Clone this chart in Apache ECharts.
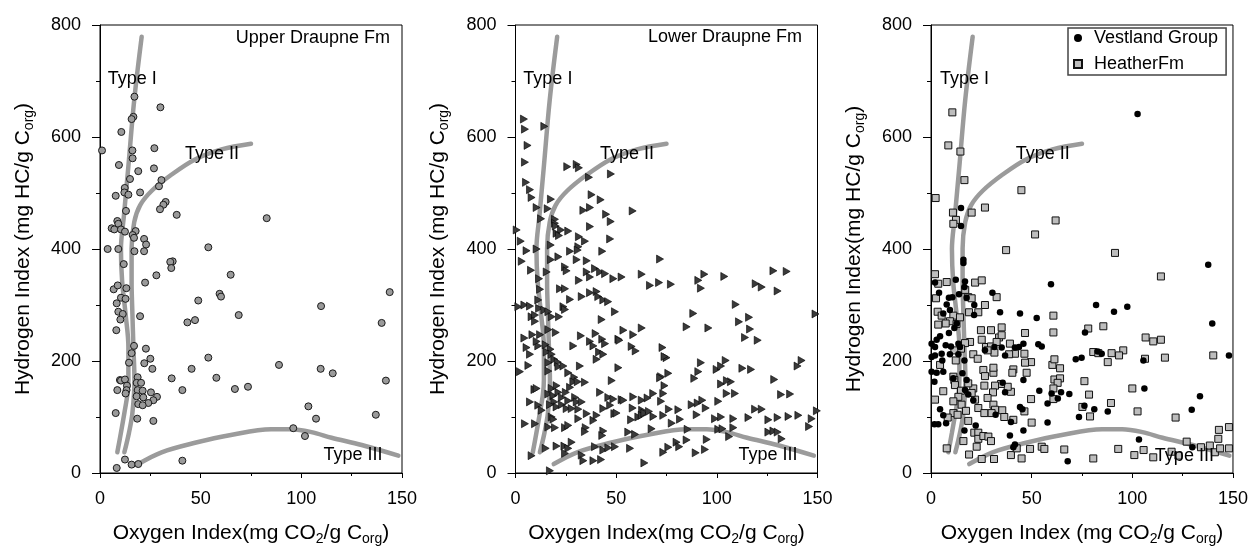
<!DOCTYPE html>
<html>
<head>
<meta charset="utf-8">
<script src="https://cdn.jsdelivr.net/npm/echarts@6/dist/echarts.min.js"></script>
<style>
  html, body { margin: 0; padding: 0; background: #fff; }
  #chart { width: 1251px; height: 551px; }
</style>
</head>
<body>
<div id="chart"></div>
<script>
// Kerogen type boundaries (Oxygen Index, Hydrogen Index), shared by all panels
const typeICurve = [[8.6,37],[10.4,72],[12.1,107],[13.6,140],[14.1,166],[14.1,225],[12.7,284],[11,342],[10.4,400],[11.9,460],[14.1,548],[17,666],[20.7,779]];
const typeIICurve = [[12.1,37],[14.4,72],[16.1,107],[17.1,166],[16.6,225],[16.1,284],[15.7,340],[15.7,401],[17,448],[19.9,478],[25.7,504],[35.6,533],[47.2,560],[60.4,578],[75,588]];
const typeIIICurve = [[19,16],[30.6,37],[47.2,54],[65,68],[85,78],[95,78],[105,73],[115,63],[130,50],[148.2,31]];

// Upper Draupne Fm samples [OI, HI]
const upperDraupne = [
[1,576],[17.1,672],[30,653],[16.6,636],[15.7,632],[10.6,609],[27,580],[16.1,576],[16.2,562],[9.4,550],[26.8,544],[19,539],[30.5,523],[14.9,525],[29.3,512],[12.3,509],[12.1,501],[19.9,501],[14.1,497],[7.8,495],[32.6,484],[31.5,479],[29.8,471],[38.1,461],[82.8,455],[12.9,468],[8.6,450],[9.1,445],[5.8,437],[7.1,435],[10.4,435],[12.4,431],[17.7,432],[16.2,425],[16.9,420],[21.9,418],[22.9,408],[3.8,400],[9.1,400],[17.1,396],[21.9,396],[53.8,403],[11.8,373],[36.1,378],[34.9,377],[35.4,366],[28,353],[64.9,354],[22.4,340],[6.8,328],[8.8,335],[13.1,330],[10.4,313],[12.7,311],[8.3,303],[48.8,308],[59.4,320],[60.1,315],[109.8,298],[143.9,323],[9.1,288],[11.3,284],[10.1,274],[19.9,280],[43.4,269],[47.2,273],[68.9,282],[8.1,255],[139.9,268],[16.9,227],[22.8,222],[15.7,214],[53.8,206],[25,204],[14.4,197],[22,196],[26,186],[45.5,186],[88.9,193],[109.6,186],[115.6,178],[9.9,166],[10.4,165],[12.4,167],[18.7,171],[35.6,169],[57.8,170],[142,165],[18.2,161],[20.4,161],[13.4,156],[13.2,148],[8.6,148],[18.7,148],[21.2,147],[25.3,144],[40.9,148],[67,150],[73.5,154],[12.7,142],[18.2,137],[21.5,135],[28.3,136],[26.5,130],[24,125],[19,123],[21.2,121],[103.5,119],[7.8,107],[137,104],[18.5,97],[26.5,93],[107.3,97],[96,80],[101.8,66],[12.4,24],[15.7,15],[19,16],[40.9,22],[8.3,9]
];

// Lower Draupne Fm samples [OI, HI]
const lowerDraupne = [
[4.2,632],[4.7,614],[14.3,619],[6,585],[4.7,555],[5.2,519],[7.2,506],[8,492],[10.5,474],[16,472],[12.7,454],[19.6,453],[19.6,446],[17.6,489],[25.7,547],[30.4,551],[31.5,545],[36.5,528],[47.4,534],[37.8,497],[42.3,488],[33.7,469],[37,474],[45,462],[47.3,449],[58.2,468],[20,441],[22.6,434],[26.2,432],[20.4,428],[21.6,424],[37,440],[31.5,422],[34.5,414],[47,418],[0.6,434],[2.6,414],[17.5,407],[31.2,404],
[5.5,397],[10.5,400],[17.6,381],[21.3,386],[27.1,396],[30.9,398],[30.4,381],[35.4,379],[43.1,396],[3.1,378],[7.7,362],[15.5,359],[11.7,347],[24.6,368],[25.4,361],[31.5,344],[35.4,359],[37,350],[39.5,365],[42,359],[44.5,356],[48.6,347],[52.7,350],[12.2,328],[22.1,329],[24.6,329],[27.1,310],[32.9,315],[37,322],[40.3,324],[41.1,315],[43.6,309],[46,306],[1.4,297],[4.4,300],[7.2,298],[11.3,309],[11.7,294],[8,279],[9.7,282],[14.3,291],[16.3,288],[18,279],[21.6,279],[23.8,297],[24.6,292],[9.7,271],[49.4,288],[42.8,274],[4.4,241],[8.4,247],[12.2,247],[16.3,256],[20,251],[11.3,227],[10.5,235],[15,229],[17.4,221],[5.5,224],[7.2,212],[32.5,245],[37,235],[39.8,249],[38.7,227],[43.1,239],[44.5,231],[28.7,227],[51.1,239],[41.5,216],[43.6,212],[40.3,203],[2.2,181],[6.4,192],[15.5,216],[18,212],[19.3,203],[16.3,197],[21,198],[21.3,190],[23.8,191],[16.3,182],[26.2,179],[29.2,171],[32,191],[28.7,163],[30.9,163],[34.5,162],[27.1,153],[47.8,165],[51.1,188],[9.4,149],[10.5,151],[18,151],[20.4,156],[16.3,141],[18.8,138],[21.3,144],[23,135],[25,144],[26.2,129],[29.6,135],[30.4,127],[32.9,127],[19.3,127],[20.4,118],[17.1,122],[23,122],[25.4,115],[27.9,115],[31.2,114],[7.2,127],[11.3,121],[42,144],[46.1,135],[48.6,132],[52.7,131],[13,112],[18,100],[9.7,88],[4.7,88],[16.3,82],[18.8,96],[19.6,81],[24.6,81],[26.2,85],[31.2,97],[35.4,106],[38.7,94],[40.3,103],[43.6,115],[47,121],[49.1,106],[34.9,81],[34.5,74],[43.6,75],[43.1,67],[8,31],[15,44],[20.4,48],[24.3,48],[27.9,55],[26.2,44],[24.6,35],[32.9,32],[33.7,22],[38.7,22],[42.5,24],[39.5,47],[43.6,41],[46.1,45],[49.4,47],[17.1,4],
[71.8,382],[62.7,355],[66.8,335],[71.3,340],[77.2,337],[90.8,344],[93.8,355],[92.1,330],[103.7,351],[119.3,338],[122.3,332],[128.1,361],[134.7,360],[130.2,325],[109.4,301],[88.3,285],[111,270],[116,278],[116.5,257],[114,242],[120.3,237],[149,284],[53.6,255],[58.5,247],[62.7,259],[85,261],[95.8,259],[57.7,226],[59.7,218],[51.6,237],[73,224],[75,206],[74,208],[75.9,178],[74,156],[72.3,172],[71.8,170],[92.1,197],[90.8,181],[88.8,169],[99.9,185],[102.1,191],[104.4,201],[102.1,159],[107,163],[105,165],[112.7,187],[117,185],[128.5,167],[140.1,191],[142.1,201],[131.9,140],[136.4,141],[109,142],[104.9,142],[53.6,130],[58.5,136],[62.7,130],[65.6,134],[68.4,142],[72.3,128],[73.4,142],[76.2,114],[87.5,122],[90.5,125],[92.8,130],[94.5,116],[100.7,128],[119,114],[122.3,114],[80.9,113],[50.2,107],[58.2,116],[62.9,112],[57.4,95],[61,100],[62.7,103],[64,107],[66.3,110],[68.5,101],[73.4,103],[77.6,89],[81.7,96],[90,104],[99.1,97],[102.1,100],[108.2,97],[115.7,99],[125.6,95],[130.2,99],[140.5,103],[135.6,101],[147.1,97],[149.7,111],[145.8,83],[67.6,79],[85.5,78],[100.7,78],[102.8,79],[108.2,81],[125.6,73],[128.1,75],[130.2,73],[132.2,61],[106.1,65],[59.4,69],[56,73],[56.9,44],[73.4,37],[75.9,46],[80,55],[81.3,47],[85,59],[89.5,36],[94.1,42],[95,60],[64,18]
];

// Vestland Group samples [OI, HI]
const vestlandGroup = [
[102.6,641],[14.9,473],[14.9,441],
[16.1,381],[16.1,375],[137.7,372],[12.3,345],[16.9,342],[2,340],[59.6,337],
[4,322],[8.9,313],[10.6,314],[13.9,319],[30.5,322],[16.6,332],[17.7,313],[21.5,300],[7.8,301],[9.4,291],[6.1,285],[34.3,287],[44.2,285],[52.5,277],[82,300],[90.9,288],[97.5,297],[139.7,267],[21.4,282],
[2.8,238],[0.3,231],[4.5,244],[8.9,250],[11.6,259],[12.8,267],[13.6,231],[14.4,225],[9.9,226],[7.3,228],[2,225],[0.3,207],[2,210],[5.3,213],[9.4,212],[5.6,201],[13.6,212],[16.6,201],[26.8,219],[31.5,225],[35.1,224],[43.7,225],[45.9,231],[53.3,230],[55,226],[76.5,251],[74.8,206],[71.9,203],[82.8,217],[84.8,213],[105.5,201],[148,210],[36.8,210],[41.7,224],
[0.3,181],[2.8,179],[6.1,181],[1.7,163],[11.1,169],[15.6,178],[17.7,166],[16.9,148],[18.5,140],[21,130],[35.6,161],[36.8,144],[45.9,166],[53.8,147],[59.9,142],[64.6,144],[68.7,141],[63,133],[57.9,124],[81.1,114],[87.8,110],[73.5,100],[76.2,120],[106,151],[133.6,137],[129.5,113],[45.4,114],[44.2,118],[32.1,104],[39.7,91],[45.9,76],[57.9,90],[39.2,67],[22.2,85],[16.6,76],[4.5,114],[6.1,103],[1.7,87],[3.6,87],[7.5,89],[41.7,51],[40.9,46],[67.9,21],[103.3,60],[129.8,46]
];

// Heather Fm samples [OI, HI]
const heatherFm = [
[10.6,644],[8.6,585],[14.6,574],[16.6,523],[2.3,491],[44.9,505],[10.9,465],[20.2,465],[26.8,474],[12.4,452],[11.1,445],[61.9,451],[51.7,426],[37.3,398],[91.4,393],[114.2,351],
[2,355],[3.6,338],[7.8,341],[21.9,340],[25.2,344],[32.6,314],[3.3,288],[5.3,281],[11.1,281],[9.4,271],[7.3,267],[3.6,265],[12.7,266],[14.4,278],[18.5,314],[20.2,312],[18.9,287],[23.5,287],[26.8,300],[60.8,281],[60.8,251],[46.7,250],[24.8,255],[29.8,255],[35.1,260],[78.1,258],[85.6,262],[106.6,242],[110.4,235],[114.2,238],[95.5,219],[89.7,214],[87.8,198],[93.4,210],[80.6,216],[83.1,214],[106.3,204],[116.2,206],[140.2,210],[100,151],
[2,131],[6.1,146],[11.1,172],[11.6,166],[11.9,157],[14.9,147],[13.6,136],[11.1,128],[15.2,122],[11.1,107],[13.2,104],[8.3,99],[17.4,111],[18.5,93],[16.1,57],[21.5,72],[23.5,72],[23.5,61],[22.7,47],[26,66],[28.5,65],[29.8,57],[25.2,25],[31.3,25],[18.9,33],[7.8,44],[39.7,32],[42.6,44],[45,26],[49.2,43],[55,47],[56.3,43],[66.2,42],[80.6,26],[93,43],[101,32],[105.6,41],[110.4,28],[119.5,38],[122.9,31],[127,56],[134.1,46],[138.5,49],[141,37],[143,77],[142.7,61],[143.6,44],[148,82],[148,44],[121.5,99],[102.6,110],[89.4,125],[78.5,140],[75.2,118],[79,101],[76.2,164],[61.3,167],[64.1,169],[62.9,161],[60.8,151],[60.8,132],[64.1,187],[60.3,193],[61.3,203],[49.7,198],[47.5,179],[40.9,185],[40.4,179],[39.7,145],[38.1,154],[34.8,159],[31.8,156],[30.8,144],[26.5,156],[28.1,134],[31,122],[31.8,113],[35.4,112],[36.4,100],[40.9,95],[50,90],[46.4,110],[23.5,116],[26.5,107],[30.1,107],[21.9,131],[21,151],[26,184],[26.8,173],[31,179],[31,188],[25.2,238],[27.3,225],[29.8,226],[33.8,242],[35.1,246],[32.6,234],[31.5,215],[39.2,231],[41.7,213],[38.8,212],[21,212],[23.2,204],[28.1,219],[19.4,234],[16.9,232],[14.9,222],[11.6,219],[12.3,201],[4.5,193],[18.5,160],[20.2,143],[46.7,197],[46.4,213],[49.7,132],[2.5,312],[17,327]
];

// In-plot annotations [OI, HI, text]
const annotations1 = [[3.8,703,'Type I'],[42.2,569,'Type II'],[111,32,'Type III']];
const annotations2 = [[3.9,703,'Type I'],[42,570,'Type II'],[110.7,32,'Type III']];
const annotations3 = [[4.5,703,'Type I'],[42.1,569,'Type II'],[111.2,30,'Type III']];
const panelTitles1 = [[144,777,'Upper Draupne Fm']];
const panelTitles2 = [[142.3,779,'Lower Draupne Fm']];

// Axis titles
const xTitles = ['Oxygen Index(mg CO{sub|2}/g C{sub|org})', 'Oxygen Index(mg CO{sub|2}/g C{sub|org})', 'Oxygen Index (mg CO{sub|2}/g C{sub|org})'];
const yTitles = ['Hydrogen Index (mg HC/g C{sub|org})', 'Hydrogen Index (mg HC/g C{sub|org})', 'Hydrogen Index(mg HC/g C{sub|org})'];

const FONT = 'Liberation Sans, Arial, Helvetica, sans-serif';
const gridLefts = [100, 515.5, 931];

const nameStyle = {
  fontSize: 21, fontFamily: FONT, color: '#000', lineHeight: 26,
  rich: { sub: { fontSize: 14, fontFamily: FONT, color: '#000', lineHeight: 14, verticalAlign: 'bottom' } }
};

const grids = gridLefts.map(l => ({
  left: l, top: 25, width: 302, height: 453,
  show: true, borderColor: '#000', borderWidth: 1, backgroundColor: 'transparent'
}));

const xAxes = gridLefts.map((l, i) => ({
  gridIndex: i, type: 'value', min: 0, max: 150, interval: 50,
  axisLine: { show: true, onZero: false, lineStyle: { color: '#000', width: 1 } },
  axisTick: { show: true, length: 5, lineStyle: { color: '#000', width: 1 } },
  minorTick: { show: true, splitNumber: 2, length: 3, lineStyle: { color: '#000', width: 1 } },
  splitLine: { show: false },
  axisLabel: { fontSize: 18, fontFamily: FONT, color: '#000', margin: 17 },
  name: xTitles[i], nameLocation: 'middle', nameGap: 47, nameTextStyle: nameStyle
}));

const yAxes = gridLefts.map((l, i) => ({
  gridIndex: i, type: 'value', min: 0, max: 800, interval: 200,
  axisLine: { show: true, onZero: false, lineStyle: { color: '#000', width: 1 } },
  axisTick: { show: true, length: 8, lineStyle: { color: '#000', width: 1 } },
  minorTick: { show: true, splitNumber: 2, length: 4, lineStyle: { color: '#000', width: 1 } },
  splitLine: { show: false },
  axisLabel: { fontSize: 18, fontFamily: FONT, color: '#000', margin: 19 },
  name: yTitles[i], nameLocation: 'middle', nameGap: 64, nameTextStyle: nameStyle
}));

const curveStyle = { color: '#9b9b9b', width: 4.5, cap: 'round' };
function curves(i) {
  return [typeICurve, typeIICurve, typeIIICurve].map(c => ({
    type: 'line', xAxisIndex: i, yAxisIndex: i, data: c, smooth: 0.35,
    showSymbol: false, silent: true, lineStyle: curveStyle, z: 1
  }));
}
function textSeries(i, data, pos) {
  return {
    type: 'scatter', xAxisIndex: i, yAxisIndex: i, data: data, symbolSize: 0, silent: true, z: 5,
    itemStyle: { opacity: 1 },
    label: { show: true, position: pos, distance: 0, formatter: p => p.data[2],
             fontSize: 18, fontFamily: FONT, color: '#000', opacity: 1 }
  };
}

const series = [
  ...curves(0), ...curves(1), ...curves(2),
  { type: 'scatter', name: 'Upper Draupne Fm', xAxisIndex: 0, yAxisIndex: 0, data: upperDraupne,
    symbol: 'circle', symbolSize: 7, z: 3,
    itemStyle: { color: '#9a9a9a', borderColor: '#1a1a1a', borderWidth: 1, opacity: 1 } },
  { type: 'scatter', name: 'Lower Draupne Fm', xAxisIndex: 1, yAxisIndex: 1, data: lowerDraupne,
    symbol: 'path://M0,0L10,5L0,10Z', symbolSize: [7, 8], z: 3,
    itemStyle: { color: '#3a3a3a', borderColor: '#000', borderWidth: 0.6, opacity: 1 } },
  { type: 'scatter', name: 'HeatherFm', xAxisIndex: 2, yAxisIndex: 2, data: heatherFm,
    symbol: 'rect', symbolSize: 7, z: 3,
    itemStyle: { color: '#bdbdbd', borderColor: '#111', borderWidth: 1, opacity: 1 } },
  { type: 'scatter', name: 'Vestland Group', xAxisIndex: 2, yAxisIndex: 2, data: vestlandGroup,
    symbol: 'circle', symbolSize: 6.5, z: 4,
    itemStyle: { color: '#000', opacity: 1 } },
  textSeries(0, annotations1, 'right'), textSeries(1, annotations2, 'right'), textSeries(2, annotations3, 'right'),
  textSeries(0, panelTitles1, 'left'), textSeries(1, panelTitles2, 'left')
];

const chart = echarts.init(document.getElementById('chart'), null, { renderer: 'canvas' });
chart.setOption({
  animation: false,
  backgroundColor: '#fff',
  textStyle: { fontFamily: FONT },
  grid: grids,
  xAxis: xAxes,
  yAxis: yAxes,
  legend: {
    data: ['Vestland Group', 'HeatherFm'], orient: 'vertical',
    left: 1068, top: 28, itemWidth: 8, itemHeight: 8, itemGap: 8,
    padding: [1, 8, 2, 5], borderColor: '#444', borderWidth: 1.5, backgroundColor: '#fff',
    textStyle: { fontSize: 18, fontFamily: FONT, color: '#000', padding: [0, 0, 0, 7] },
    selectedMode: false
  },
  series: series
});
</script>
</body>
</html>
